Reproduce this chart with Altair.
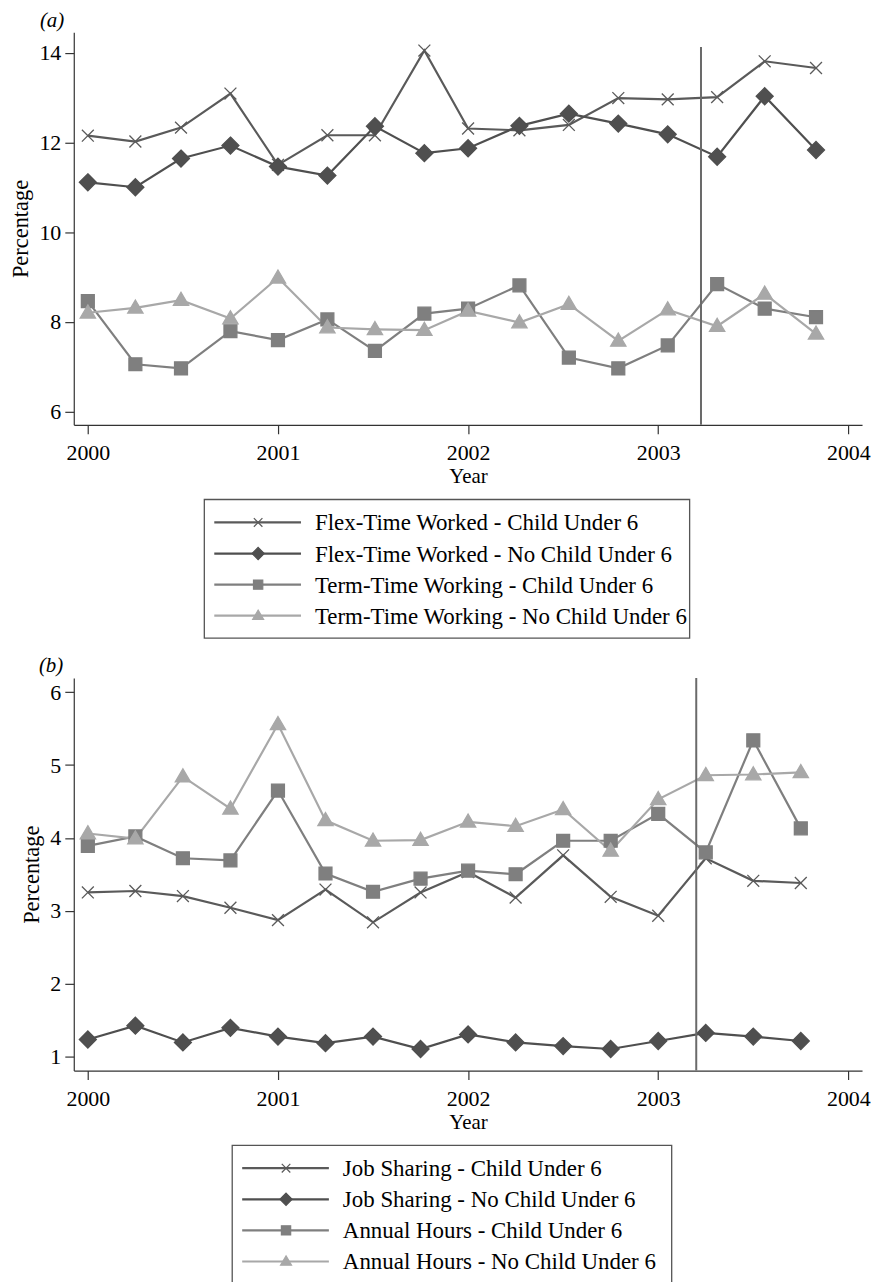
import altair as alt
import pandas as pd

# ---------------- data: panel (a) ----------------
years_a = [2000.0, 2000.25, 2000.49, 2000.75, 2001.0, 2001.26, 2001.51, 2001.77,
           2002.0, 2002.27, 2002.53, 2002.79, 2003.05, 2003.31, 2003.56, 2003.83]
flex_child = [12.15, 12.02, 12.33, 13.09, 11.50, 12.16, 12.16, 14.05,
              12.31, 12.27, 12.39, 12.99, 12.96, 13.01, 13.81, 13.66]
flex_nochild = [11.11, 11.00, 11.64, 11.93, 11.46, 11.26, 12.36, 11.76,
                11.87, 12.37, 12.64, 12.42, 12.18, 11.68, 13.03, 11.83]
term_child = [8.46, 7.05, 6.96, 7.79, 7.59, 8.05, 7.35, 8.18,
              8.29, 8.81, 7.20, 6.96, 7.47, 8.84, 8.29, 8.10]
term_nochild = [8.20, 8.31, 8.48, 8.07, 8.98, 7.87, 7.83, 7.81,
                8.24, 7.98, 8.39, 7.57, 8.27, 7.90, 8.62, 7.73]
series_a = ["Flex-Time Worked - Child Under 6",
            "Flex-Time Worked - No Child Under 6",
            "Term-Time Working - Child Under 6",
            "Term-Time Working - No Child Under 6"]
break_a = 2003.225
break_a_top = 14.13
yticks_a = [6, 8, 10, 12, 14]
ydom_a = [5.70, 14.46]

# ---------------- data: panel (b) ----------------
years_b = [2000.0, 2000.25, 2000.5, 2000.75, 2001.0, 2001.25, 2001.5, 2001.75,
           2002.0, 2002.25, 2002.5, 2002.75, 2003.0, 2003.25, 2003.5, 2003.75]
job_child = [3.25, 3.27, 3.20, 3.04, 2.87, 3.29, 2.84, 3.25,
             3.53, 3.18, 3.76, 3.19, 2.93, 3.72, 3.41, 3.38]
job_nochild = [1.23, 1.42, 1.19, 1.39, 1.27, 1.18, 1.27, 1.10,
               1.30, 1.19, 1.14, 1.10, 1.21, 1.32, 1.27, 1.21]
annual_child = [3.89, 4.02, 3.72, 3.69, 4.65, 3.51, 3.26, 3.44,
                3.55, 3.50, 3.96, 3.96, 4.33, 3.80, 5.34, 4.13]
annual_nochild = [4.06, 3.99, 4.84, 4.40, 5.56, 4.24, 3.96, 3.97,
                  4.22, 4.16, 4.39, 3.82, 4.53, 4.86, 4.87, 4.90]
series_b = ["Job Sharing - Child Under 6",
            "Job Sharing - No Child Under 6",
            "Annual Hours - Child Under 6",
            "Annual Hours - No Child Under 6"]
break_b = 2003.2
yticks_b = [1, 2, 3, 4, 5, 6]
ydom_b = [0.804, 6.197]

xticks = [2000, 2001, 2002, 2003, 2004]
xdom = [1999.926, 2004.072]

# ---------------- style ----------------
FONT = "Liberation Serif"
colors = ["#5a5a5a", "#4f4f4f", "#7f7f7f", "#a8a8a8"]
X_PATH = "M-0.7,-0.7L0.7,0.7M-0.7,0.7L0.7,-0.7"
DIAMOND = "M0,-1L1,0L0,1L-1,0Z"
SQUARE = "M-0.76,-0.76H0.76V0.76H-0.76Z"
TRIANGLE = "M0,-0.92L0.9,0.62L-0.9,0.62Z"
shapes = [X_PATH, DIAMOND, SQUARE, TRIANGLE]
MSIZE = 290
LSIZE = 150
AXC = "#333333"
PLOT_W = 791
PLOT_H = 394


def long_df(years, series, cols):
    rows = []
    for name, vals in zip(series, cols):
        for yr, v in zip(years, vals):
            rows.append({"year": yr, "value": v, "series": name})
    return pd.DataFrame(rows)


def panel(df, series, label, dx, ydom, yticks, brk, brk_top):
    cs = alt.Scale(domain=series, range=colors)
    ss = alt.Scale(domain=series, range=shapes)
    x = alt.X("year:Q", scale=alt.Scale(domain=xdom, nice=False, zero=False),
              axis=alt.Axis(values=xticks, format="d", title="Year", grid=False,
                            labelFont=FONT, labelFontSize=22, labelColor="black",
                            titleFont=FONT, titleFontSize=21, titleFontWeight="normal",
                            titleColor="black", titlePadding=2,
                            tickSize=9, labelPadding=9, domainColor=AXC, tickColor=AXC,
                            domainWidth=1.2, tickWidth=1.2, labelFlush=False))
    y = alt.Y("value:Q", scale=alt.Scale(domain=ydom, nice=False, zero=False),
              axis=alt.Axis(values=yticks, format="d", title="Percentage", grid=False,
                            labelFont=FONT, labelFontSize=22, labelColor="black",
                            titleFont=FONT, titleFontSize=22.5, titleFontWeight="normal",
                            titleColor="black", titlePadding=6,
                            tickSize=9, labelPadding=4, domainColor=AXC, tickColor=AXC,
                            domainWidth=1.2, tickWidth=1.2, labelFlush=False))
    lines = alt.Chart(df).mark_line(strokeWidth=2.2).encode(
        x=x, y=y, color=alt.Color("series:N", scale=cs, legend=None),
        order="year:Q")
    pts = alt.Chart(df).mark_point(filled=True, opacity=1, size=MSIZE,
                                   strokeWidth=1.3).encode(
        x="year:Q", y="value:Q",
        fill=alt.Fill("series:N", scale=cs, legend=None),
        stroke=alt.Stroke("series:N", scale=cs, legend=None),
        shape=alt.Shape("series:N", scale=ss, legend=None))
    rdf = pd.DataFrame({"year": [brk], "lo": [ydom[0]], "hi": [brk_top]})
    rule = alt.Chart(rdf).mark_rule(color="#6a6a6a", strokeWidth=2).encode(
        x="year:Q", y="lo:Q", y2="hi:Q")
    return alt.layer(lines, pts, rule).properties(
        width=PLOT_W, height=PLOT_H,
        title=alt.TitleParams(label, anchor="start", frame="group", font=FONT,
                              fontSize=21, fontStyle="italic", fontWeight="normal",
                              color="black", dx=dx, dy=26, offset=10,
                              baseline="alphabetic"))


def legend(series, total_h, bx, bw, by, bh):
    ldf = pd.DataFrame({"series": series})
    cs = alt.Scale(domain=series, range=colors)
    ss = alt.Scale(domain=series, range=shapes)
    yrow = alt.Y("series:N", sort=series, axis=None,
                 scale=alt.Scale(type="point", domain=series,
                                 range=[by + 23, by + 23 + 3 * 31.2], padding=0))
    box = alt.Chart(pd.DataFrame({"k": [0]})).mark_rect(
        fill="white", stroke="#555555", strokeWidth=1.3).encode(
        x=alt.value(bx), x2=alt.value(bx + bw),
        y=alt.value(by), y2=alt.value(by + bh))
    seg = alt.Chart(ldf).mark_rule(strokeWidth=2.2).encode(
        x=alt.value(bx + 10), x2=alt.value(bx + 97), y=yrow,
        color=alt.Color("series:N", scale=cs, legend=None))
    sym = alt.Chart(ldf).mark_point(filled=True, opacity=1, size=LSIZE,
                                    strokeWidth=1.2).encode(
        x=alt.value(bx + 54), y=yrow,
        fill=alt.Fill("series:N", scale=cs, legend=None),
        stroke=alt.Stroke("series:N", scale=cs, legend=None),
        shape=alt.Shape("series:N", scale=ss, legend=None))
    txt = alt.Chart(ldf).mark_text(align="left", baseline="middle", font=FONT,
                                   fontSize=23, color="black", dy=1).encode(
        x=alt.value(bx + 111), y=yrow, text="series:N")
    return alt.layer(box, seg, sym, txt).properties(width=PLOT_W, height=total_h)


df_a = long_df(years_a, series_a, [flex_child, flex_nochild, term_child, term_nochild])
df_b = long_df(years_b, series_b, [job_child, job_nochild, annual_child, annual_nochild])

pa = panel(df_a, series_a, "(a)", -34, ydom_a, yticks_a, break_a, break_a_top)
la = legend(series_a, 254, 131, 487, 75, 139)
pb = panel(df_b, series_b, "(b)", -35, ydom_b, yticks_b, break_b, ydom_b[1])
lb = legend(series_b, 219, 159, 441, 75, 139)

chart = alt.concat(pa, la, pb, lb, columns=1, spacing=0, bounds="flush").resolve_scale(
    color="independent", fill="independent", stroke="independent", shape="independent"
).configure_view(stroke=None).properties(
    padding={"left": 2, "top": 0, "right": 0, "bottom": 0}, background="white")

chart.save("out.html", embed_options={"renderer": "svg", "actions": False})
